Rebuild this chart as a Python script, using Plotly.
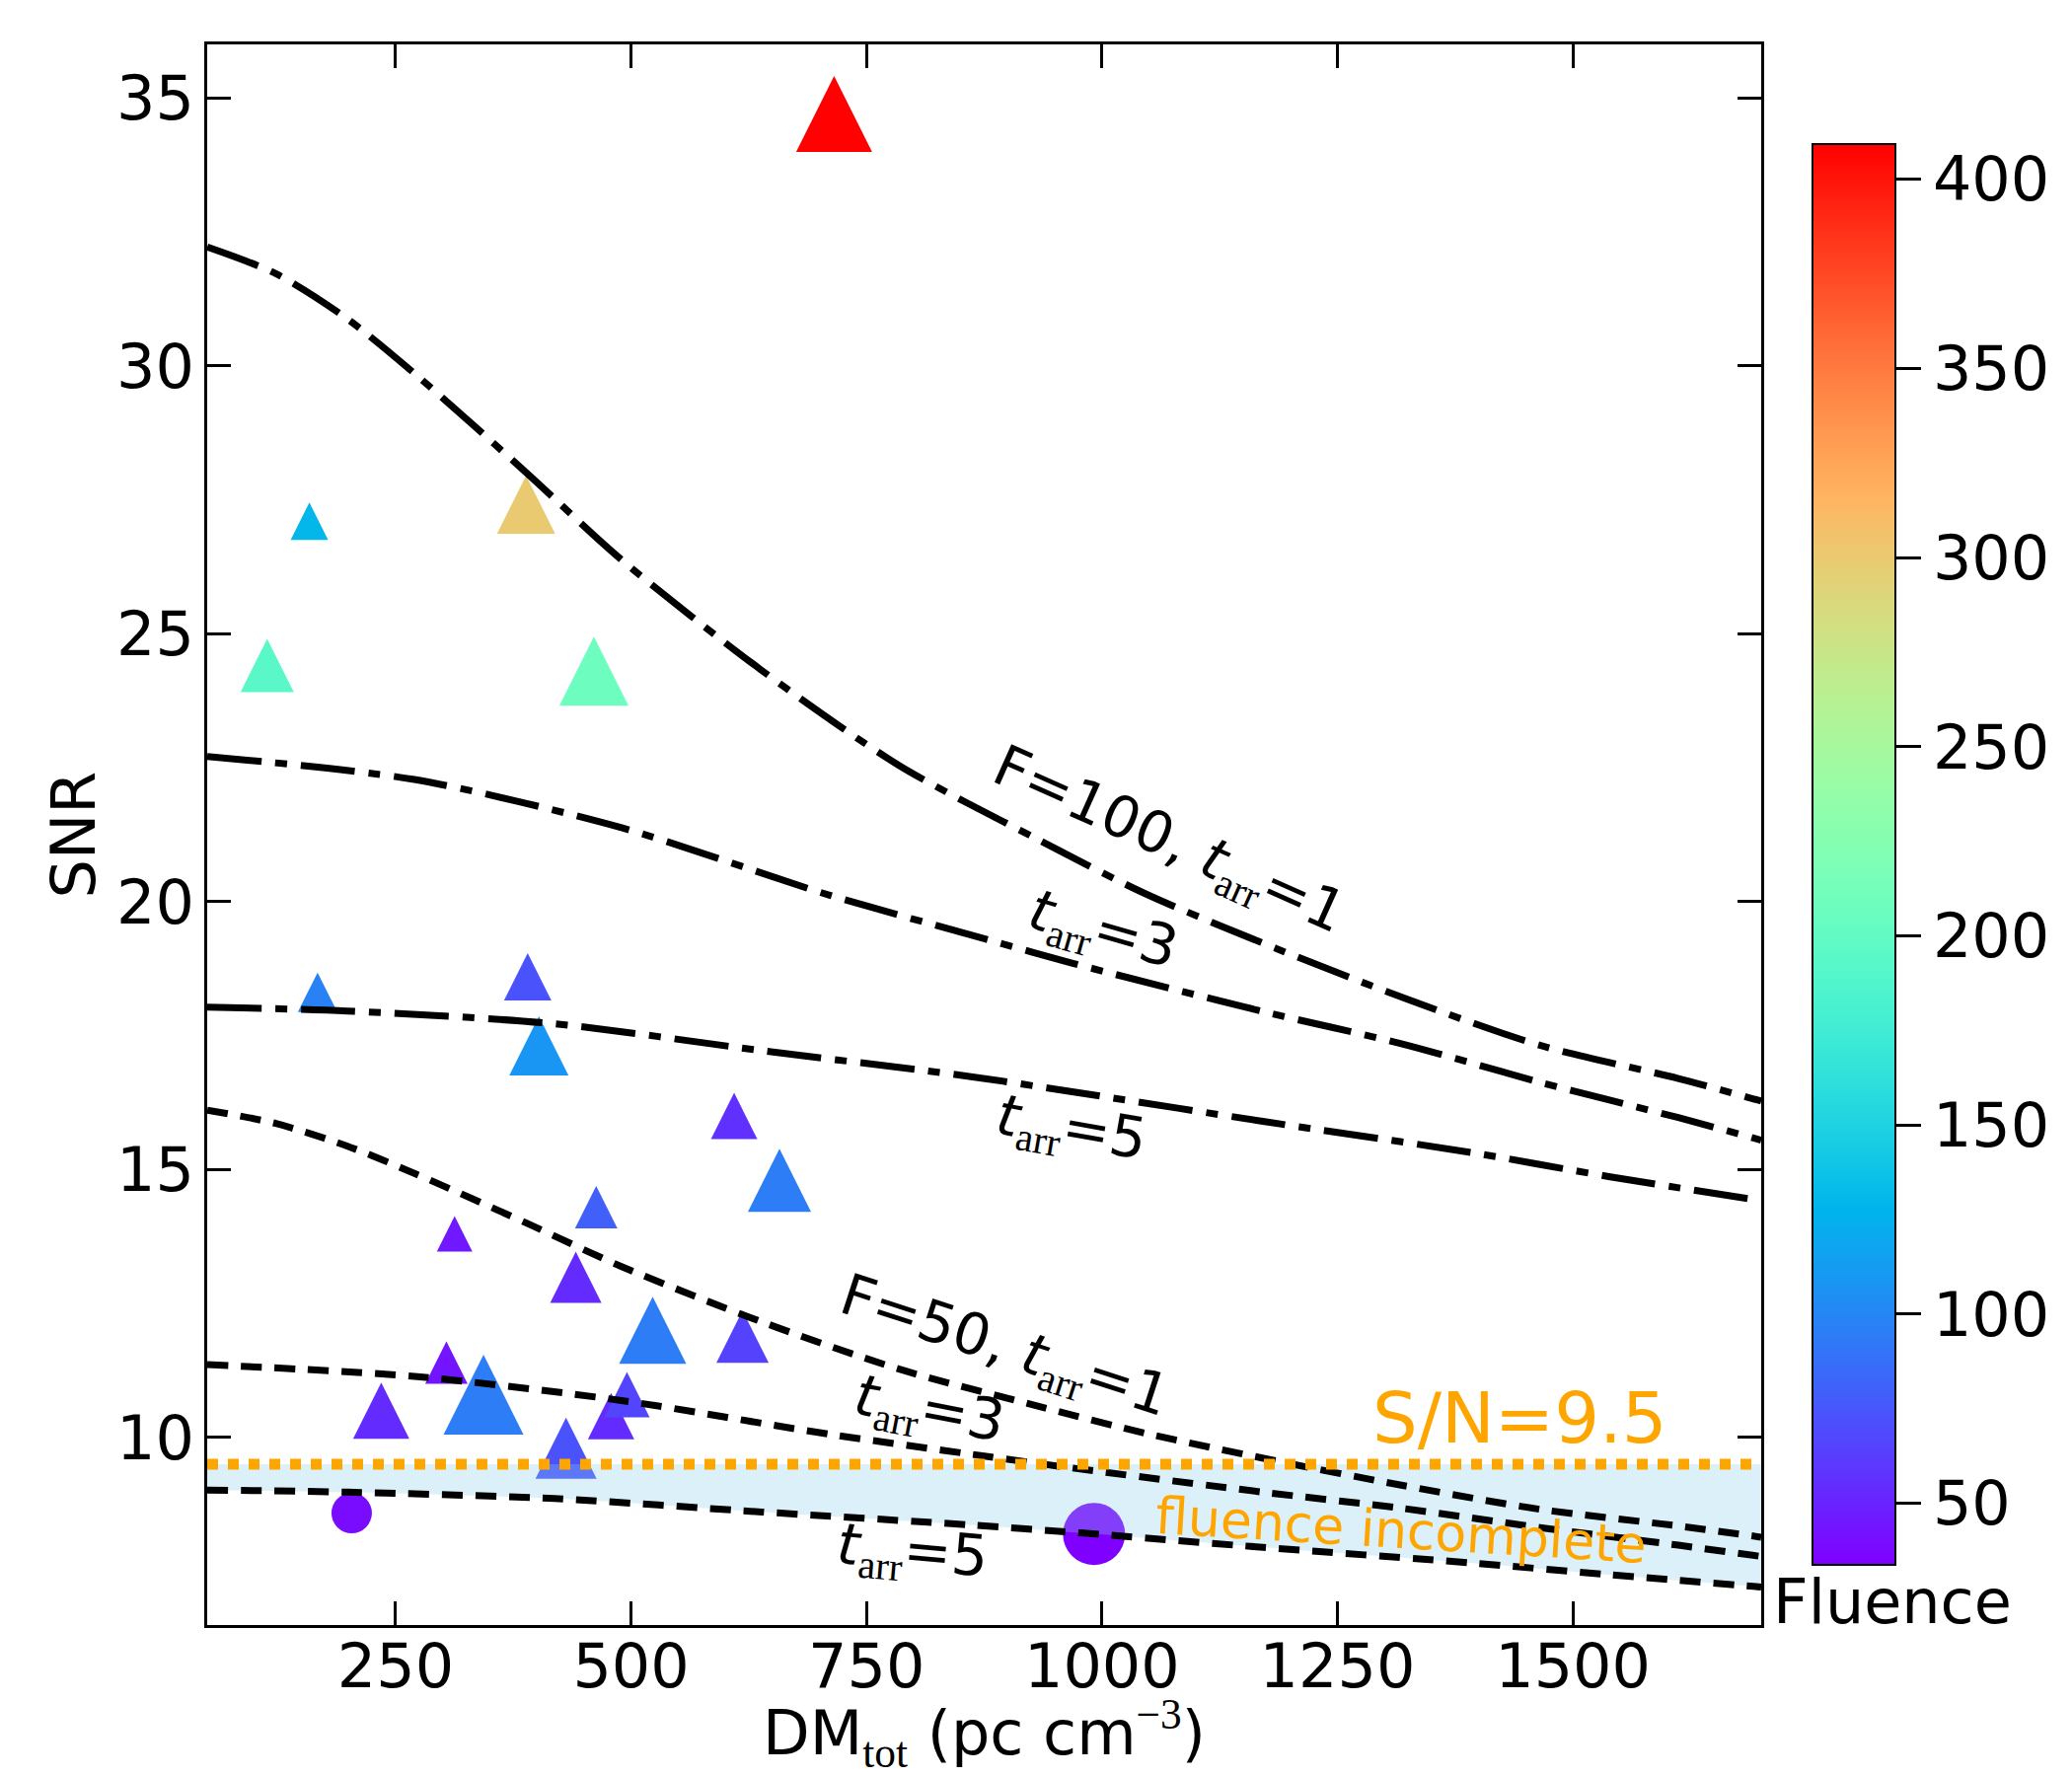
import math
import numpy as np
import plotly.graph_objects as go

# ---------------- data ----------------
dm_tri = [715.6, 158.5, 388.6, 113.7, 460.6, 167.2, 390.3, 402.2, 609.5, 657.6,
          463.0, 312.7, 441.4, 523.0, 618.4, 304.0, 234.8, 343.4, 478.8, 495.7, 431.0]
snr_tri = [34.70, 27.10, 27.41, 24.41, 24.30, 18.31, 18.60, 17.31, 16.00, 14.80,
           14.30, 13.80, 12.99, 12.00, 11.88, 11.40, 10.50, 10.80, 10.40, 10.80, 9.80]
fluence_tri = [409, 130, 300, 194, 208, 98, 73, 109, 57, 95,
               80, 45, 54, 95, 65, 43, 54, 95, 54, 66, 73]
msize_tri = [77, 38, 59, 54, 70, 40, 48, 60, 47, 64,
             43, 36, 52, 68, 53, 43, 57, 81, 47, 46, 62]

dm_circ = [203.4, 991.6]
snr_circ = [8.59, 8.20]
fluence_circ = [39, 34]
msize_circ = [41, 63]

# model curves
f100_t1_dm = [50, 123, 197, 270, 388, 490, 637, 784, 931, 1046, 1186, 1318, 1465, 1612, 1700]
f100_t1_snr = [32.22, 31.72, 30.90, 29.86, 28.02, 26.38, 24.34, 22.55, 21.17, 20.15, 19.12, 18.22, 17.32, 16.70, 16.28]
f100_t3_dm = [50, 270, 490, 711, 877, 969, 1171, 1318, 1465, 1612, 1700]
f100_t3_snr = [22.71, 22.28, 21.38, 20.12, 19.30, 18.85, 17.95, 17.35, 16.63, 15.97, 15.55]
f100_t5_dm = [50, 199, 419, 639, 859, 977, 1171, 1392, 1538, 1700]
f100_t5_snr = [18.03, 17.96, 17.72, 17.22, 16.74, 16.43, 15.90, 15.32, 14.87, 14.42]

f50_t1_dm = [50, 123, 197, 270, 388, 490, 637, 784, 931, 1046, 1186, 1318, 1465, 1612, 1700]
f50_t1_snr = [16.11, 15.86, 15.45, 14.93, 14.01, 13.19, 12.17, 11.28, 10.59, 10.08, 9.56, 9.11, 8.66, 8.35, 8.14]
f50_t3_dm = [50, 270, 490, 711, 877, 969, 1171, 1318, 1465, 1612, 1700]
f50_t3_snr = [11.36, 11.14, 10.69, 10.06, 9.65, 9.43, 8.98, 8.68, 8.32, 7.99, 7.78]
f50_t5_dm = [50, 199, 419, 639, 859, 977, 1171, 1392, 1538, 1700]
f50_t5_snr = [9.02, 8.98, 8.86, 8.61, 8.37, 8.22, 7.95, 7.66, 7.44, 7.21]

snr_threshold = 9.5
x_range = [50, 1700]
y_range = [6.5, 36]
x_ticks = [250, 500, 750, 1000, 1250, 1500]
y_ticks = [10, 15, 20, 25, 30, 35]
cbar_ticks = [50, 100, 150, 200, 250, 300, 350, 400]
cbar_range = [33.8, 409.4]

# ---------------- colormap (matplotlib 'rainbow') ----------------
def rainbow(v):
    r = min(1.0, abs(2 * v - 0.5))
    g = max(0.0, math.sin(math.pi * v))
    b = max(0.0, math.cos(math.pi * v / 2))
    return "rgb(%d,%d,%d)" % (round(r * 255), round(g * 255), round(b * 255))

rainbow_scale = [[float(s), rainbow(float(s))] for s in np.linspace(0, 1, 41)]

FONT = "DejaVu Sans"
SERIF = "Liberation Serif"

fig = go.Figure()

# markers (triangles centred on their point like matplotlib '^')
fig.add_trace(go.Scatter(
    x=dm_tri, y=snr_tri, mode="markers",
    marker=dict(symbol="arrow-down", angle=180, opacity=1,
                size=msize_tri, standoff=[s / 2 for s in msize_tri],
                color=fluence_tri, coloraxis="coloraxis",
                line=dict(width=0)),
    hoverinfo="skip"))
fig.add_trace(go.Scatter(
    x=dm_circ, y=snr_circ, mode="markers",
    marker=dict(symbol="circle", size=msize_circ, color=fluence_circ, opacity=1,
                coloraxis="coloraxis", line=dict(width=0)),
    hoverinfo="skip"))

# shaded "fluence incomplete" region
fig.add_trace(go.Scatter(x=f50_t5_dm, y=[snr_threshold] * len(f50_t5_dm), mode="lines",
                         line=dict(width=0), hoverinfo="skip"))
fig.add_trace(go.Scatter(x=f50_t5_dm, y=f50_t5_snr, mode="lines", fill="tonexty",
                         fillcolor="rgba(135,206,235,0.3)",
                         line=dict(width=0, shape="spline", smoothing=0.8), hoverinfo="skip"))

dashdot = "55px,14px,12px,14px"
dashed = "21px,13px"
for xs, ys, d in [(f100_t1_dm, f100_t1_snr, dashdot), (f100_t3_dm, f100_t3_snr, dashdot),
                  (f100_t5_dm, f100_t5_snr, dashdot), (f50_t1_dm, f50_t1_snr, dashed),
                  (f50_t3_dm, f50_t3_snr, dashed), (f50_t5_dm, f50_t5_snr, dashed)]:
    fig.add_trace(go.Scatter(x=xs, y=ys, mode="lines",
                             line=dict(color="black", width=7, dash=d, shape="spline", smoothing=0.8),
                             hoverinfo="skip"))

# S/N threshold
fig.add_trace(go.Scatter(x=x_range, y=[snr_threshold, snr_threshold], mode="lines",
                         line=dict(color="orange", width=11, dash="11px,10px"), hoverinfo="skip"))

def tarr(val):
    return ("<i>t</i><sub><span style=\"font-family:'%s'\">arr</span></sub>=%s" % (SERIF, val))

labels = [
    ("F=100, " + tarr(1), 1071, 21.12, 24),
    (tarr(3), 1001, 19.44, 16),
    (tarr(5), 967, 15.74, 10),
    ("F=50, " + tarr(1), 896, 11.67, 18),
    (tarr(3), 816, 10.49, 11),
    (tarr(5), 798, 7.84, 5),
]
annotations = []
for txt, x, y, ang in labels:
    annotations.append(dict(text=txt, x=x, y=y, xref="x", yref="y", showarrow=False,
                            textangle=ang, xanchor="center", yanchor="middle",
                            font=dict(family=FONT, size=58, color="black")))
annotations.append(dict(text="S/N=9.5", x=1444, y=10.37, xref="x", yref="y", showarrow=False,
                        xanchor="center", yanchor="middle",
                        font=dict(family=FONT, size=72, color="orange")))
annotations.append(dict(text="fluence incomplete", x=1318, y=8.27, xref="x", yref="y",
                        showarrow=False, textangle=3.5, xanchor="center", yanchor="middle",
                        font=dict(family=FONT, size=52, color="orange")))
annotations.append(dict(text="Fluence", x=1.0844, y=0.0145, xref="paper", yref="paper",
                        showarrow=False, xanchor="center", yanchor="middle",
                        font=dict(family=FONT, size=62, color="black")))

axis_common = dict(showline=True, linewidth=2.5, linecolor="black", mirror="ticks",
                   ticks="inside", ticklen=24, tickwidth=3, tickcolor="black",
                   showgrid=False, zeroline=False,
                   tickfont=dict(family=FONT, size=62, color="black"))

fig.update_layout(
    width=2100, height=1800,
    margin=dict(l=210, r=315, t=45, b=153),
    plot_bgcolor="white", paper_bgcolor="white",
    showlegend=False,
    font=dict(family=FONT, size=62, color="black"),
    xaxis=dict(range=x_range, tickvals=x_ticks, ticklabelstandoff=-14,
               title=dict(text="DM<sub><span style=\"font-family:'%s'\">tot</span></sub> (pc cm<sup><span style=\"font-family:'%s'\">\u22123</span></sup>)" % (SERIF, SERIF),
                          standoff=12, font=dict(family=FONT, size=62)),
               **axis_common),
    yaxis=dict(range=y_range, tickvals=y_ticks, ticklabelstandoff=-2,
               title=dict(text="SNR", standoff=2, font=dict(family=FONT, size=62)),
               **axis_common),
    coloraxis=dict(colorscale=rainbow_scale, cmin=cbar_range[0], cmax=cbar_range[1],
                   colorbar=dict(x=1.033, xanchor="left", xpad=0, ypad=0,
                                 y=0.4877, yanchor="middle",
                                 thickness=84, thicknessmode="pixels",
                                 len=1440, lenmode="pixels",
                                 outlinewidth=2, outlinecolor="black",
                                 tickvals=cbar_ticks, ticks="outside", ticklen=25,
                                 tickwidth=3, tickcolor="black",
                                 tickfont=dict(family=FONT, size=62, color="black"))),
    annotations=annotations,
)

fig.write_html("out.html")
